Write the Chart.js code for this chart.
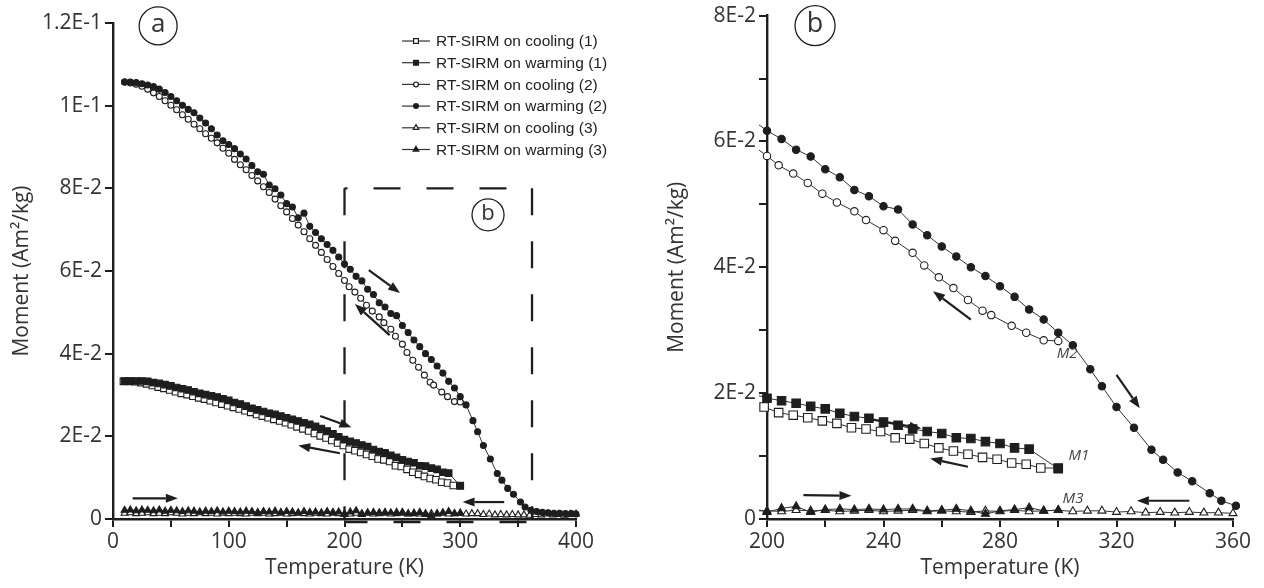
<!DOCTYPE html>
<html>
<head>
<meta charset="utf-8">
<script src="https://cdn.jsdelivr.net/npm/chart.js@4.4.1/dist/chart.umd.min.js"></script>
<style>
  html, body { margin: 0; padding: 0; background: #fff; }
  #wrap { position: relative; width: 1264px; height: 588px; overflow: hidden; }
  canvas { position: absolute; top: 0; }
  #chartA { left: 0; }
  #chartB { left: 634px; }
</style>
</head>
<body>
<div id="wrap">
  <canvas id="chartA" width="630" height="588"></canvas>
  <canvas id="chartB" width="630" height="588"></canvas>
</div>
<script>
// series names (legend order)
const seriesNames = [
  'RT-SIRM on cooling (1)', 'RT-SIRM on warming (1)',
  'RT-SIRM on cooling (2)', 'RT-SIRM on warming (2)',
  'RT-SIRM on cooling (3)', 'RT-SIRM on warming (3)'
];

// temperatures (K)
const tempsA = [10,15,20,25,30,35,40,45,50,55,60,65,70,75,80,85,90,95,100,105,110,115,120,125,130,135,140,145,150,155,
  160,165,170,175,180,185,190,195,200,205,210,215,220,225,230,235,240,245,250,255,260,265,270,275,280,285,290,295,300];
const tempsFull = [10,15,20,25,30,35,40,45,50,55,60,65,70,75,80,85,90,95,100,105,110,115,120,125,130,135,140,145,150,155,
  160,165,170,175,180,185,190,195,200,205,210,215,220,225,230,235,240,245,250,255,260,265,270,275,280,285,290,295,300,
  305,310,315,320,325,330,335,340,345,350,355,360,365,370,375,380,385,390,395,400];

// (1) squares
const warm1T = [10,15,20,25,30,35,40,45,50,55,60,65,70,75,80,85,90,95,100,105,110,115,120,125,130,135,140,145,150,155,
  160,165,170,175,180,185,190,195,200,205,210,215,220,225,230,235,240,245,250,255,260,265,270,275,280,285,290,300];
const warm1M = [.0334,.0334,.0334,.0334,.0333,.0330,.0328,.0325,.0322,.0318,
  .0315,.0312,.0308,.0304,.0301,.0298,.0295,.0291,.0287,.0282,
  .0278,.0273,.0268,.0264,.0260,.0256,.0253,.0249,.0245,.0241,
  .0237,.0233,.0229,.0224,.0219,.0213,.0206,.0199,.0192,.0188,
  .0184,.0179,.0175,.0168,.0163,.0160,.0154,.0149,.0143,.0139,
  .0136,.0129,.0128,.0123,.0120,.0113,.0111,.0080];
const cool1T = [9,14,19,24,29,34,39,44,49,54,59,64,69,74,79,84,89,94,99,104,109,114,119,124,129,134,139,144,149,154,
  159,164,169,174,179,184,189,194,199,204,209,214,219,224,229,234,239,244,249,254,259,264,269,274,279,284,289,294,300];
const cool1M = [.0333,.0333,.0332,.0330,.0327,.0323,.0319,.0316,.0312,.0308,
  .0304,.0301,.0297,.0293,.0290,.0286,.0282,.0278,.0274,.0270,
  .0266,.0262,.0258,.0253,.0249,.0245,.0241,.0237,.0233,.0228,
  .0223,.0218,.0213,.0207,.0201,.0196,.0190,.0184,.0178,.0169,
  .0165,.0161,.0156,.0152,.0145,.0143,.0139,.0129,.0127,.0120,
  .0113,.0108,.0103,.0098,.0095,.0089,.0087,.0081,.0081];

// (2) circles
const warm2T = tempsA.concat([305,311,315,320,326,332,336,341,346,352,356,361,366,371,376,381,386,391,396,400]);
const warm2M = [.1057,.1057,.1056,.1053,.1050,.1046,.1040,.1032,.1022,.1012,
  .1001,.0991,.0983,.0970,.0958,.0944,.0929,.0915,.0906,.0896,
  .0883,.0871,.0855,.0840,.0834,.0808,.0799,.0784,.0763,.0755,
  .0729,.0740,.0708,.0693,.0678,.0664,.0650,.0634,.0617,.0604,
  .0587,.0576,.0556,.0543,.0523,.0513,.0497,.0492,.0468,.0451,
  .0433,.0417,.0400,.0386,.0370,.0353,.0333,.0317,.0296,
  .0276,.0238,.0211,.0178,.0145,.0110,.0094,.0074,.0060,.0041,
  .0029,.0021,.0018,.0016,.0015,.0014,.0014,.0013,.0013,.0012];
const cool2T = [10,15,20,25,30,35,40,45,50,55,60,65,70,75,80,85,90,95,100,105,110,115,120,125,130,135,140,145,150,155,
  160,165,170,175,180,185,190,195,200,204,209,214,219,224,230,234,240,244,250,254,259,264,269,274,277,284,289,295,300];
const cool2M = [.1057,.1055,.1052,.1047,.1040,.1031,.1022,.1012,.1001,.0990,
  .0978,.0967,.0955,.0944,.0932,.0921,.0910,.0897,.0885,.0870,
  .0857,.0845,.0831,.0818,.0804,.0790,.0774,.0758,.0743,.0727,
  .0711,.0695,.0678,.0662,.0645,.0628,.0611,.0594,.0577,
  .0562,.0549,.0534,.0517,.0503,.0489,.0475,.0459,.0442,.0423,
  .0403,.0384,.0367,.0348,.0331,.0324,.0307,.0296,.0284,.0283];

// (3) triangles
const warm3T = tempsA;
const warm3M = [.0021,.0022,.0020,.0022,.0021,.0020,.0022,.0019,.0021,.0020,
  .0018,.0020,.0019,.0017,.0019,.0018,.0020,.0017,.0019,.0018,
  .0017,.0019,.0018,.0016,.0018,.0017,.0019,.0016,.0018,.0017,
  .0015,.0018,.0016,.0017,.0015,.0018,.0016,.0017,.0011,.0017,
  .0020,.0011,.0015,.0016,.0015,.0016,.0015,.0016,.0016,.0013,
  .0014,.0016,.0013,.0008,.0013,.0015,.0018,.0013,.0014];
const cool3T = tempsFull;
const cool3M = [.0014,.0015,.0013,.0014,.0015,.0013,.0014,.0013,.0015,.0014,
  .0012,.0014,.0013,.0015,.0013,.0014,.0012,.0014,.0013,.0014,
  .0013,.0012,.0014,.0013,.0014,.0012,.0013,.0014,.0012,.0013,
  .0014,.0013,.0012,.0014,.0013,.0012,.0014,.0013,.0013,.0012,
  .0014,.0013,.0014,.0012,.0013,.0014,.0012,.0013,.0014,.0012,
  .0013,.0012,.0011,.0013,.0012,.0014,.0012,.0013,.0014,.0012,
  .0013,.0013,.0011,.0012,.0010,.0011,.0010,.0011,.0010,.0010,
  .0009,.0011,.0010,.0012,.0010,.0011,.0009,.0011,.0012];

// tick labels
const aXTickLabels = ['0', '', '100', '', '200', '', '300', '', '400'];
const aYTickLabels = ['0', '2E-2', '4E-2', '6E-2', '8E-2', '1E-1', '1.2E-1'];
const bXTickLabels = ['200', '', '240', '', '280', '', '320', '', '360'];
const bYTickLabels = ['0', '', '2E-2', '', '4E-2', '', '6E-2', '', '8E-2'];

const seriesT = [cool1T, warm1T, cool2T, warm2T, cool3T, warm3T];
const seriesM = [cool1M, warm1M, cool2M, warm2M, cool3M, warm3M];
const markers = ['rect', 'rect', 'circle', 'circle', 'triangle', 'triangle'];
const filled = [false, true, false, true, false, true];

const INK = '#1e1e1e';
const FONT = "'Open Sans', sans-serif";

function pts(ts, ms) {
  return ts.map((t, i) => ({ x: t, y: ms[i] }));
}

function buildDatasets(sizes) {
  return seriesNames.map((name, i) => ({
    label: name,
    data: pts(seriesT[i], seriesM[i]),
    showLine: true,
    borderColor: '#333',
    borderWidth: 1,
    pointStyle: markers[i],
    pointRadius: sizes[markers[i]],
    pointBorderWidth: 1.1,
    pointBorderColor: INK,
    pointBackgroundColor: filled[i] ? INK : '#fff',
    order: filled[i] ? 0 : 1,
    clip: 8
  }));
}

// extra marks for each panel (arrows etc.), in data units
const overlays = {
  chartA: {
    arrows: [
      [[17, 0.0050], [56, 0.0050]],
      [[179, 0.0249], [206, 0.0222]],
      [[196, 0.0159], [160, 0.0178]],
      [[221, 0.0602], [248, 0.0547]],
      [[239, 0.0445], [209, 0.0520]],
      [[338, 0.0041], [302, 0.0041]]
    ],
    circles: [
      { t: 'a', x: 39, y: 0.1193, r: 19, size: 26 },
      { t: 'b', x: 324, y: 0.0736, r: 16, size: 22 }
    ],
    labels: [],
    box: { x0: 200, x1: 362, y1: 0.08 },
    legend: { x: 402, y: 41, row: 21.7 }
  },
  chartB: {
    arrows: [
      [[212.5, 0.0038], [229, 0.0037]],
      [[235, 0.0159], [253, 0.0144]],
      [[269, 0.0083], [256, 0.0096]],
      [[345, 0.0029], [327, 0.0029]],
      [[320, 0.0229], [328, 0.0176]],
      [[270, 0.0317], [257, 0.0362]]
    ],
    circles: [
      { t: 'b', x: 216.5, y: 0.0784, r: 20, size: 27 }
    ],
    labels: [
      { t: 'M1', x: 303.5, y: 0.0101 },
      { t: 'M2', x: 299.5, y: 0.0263 },
      { t: 'M3', x: 301.5, y: 0.0032 }
    ],
    box: null,
    legend: null
  }
};

function drawArrow(ctx, x1, y1, x2, y2) {
  const ang = Math.atan2(y2 - y1, x2 - x1);
  const head = 12, half = 4.5;
  const hx = x2 - head * Math.cos(ang), hy = y2 - head * Math.sin(ang);
  ctx.beginPath();
  ctx.moveTo(x1, y1);
  ctx.lineTo(hx, hy);
  ctx.lineWidth = 2.2;
  ctx.stroke();
  ctx.beginPath();
  ctx.moveTo(x2, y2);
  ctx.lineTo(hx + half * Math.sin(ang), hy - half * Math.cos(ang));
  ctx.lineTo(hx - half * Math.sin(ang), hy + half * Math.cos(ang));
  ctx.closePath();
  ctx.fill();
}

const overlayPlugin = {
  id: 'overlay',
  afterDatasetsDraw(chart) {
    const cfg = overlays[chart.canvas.id];
    const ctx = chart.ctx;
    const xs = chart.scales.x, ys = chart.scales.y;
    ctx.save();
    ctx.strokeStyle = INK;
    ctx.fillStyle = INK;

    // dashed zoom box
    if (cfg.box) {
      const b = cfg.box;
      const X0 = xs.getPixelForValue(b.x0), X1 = xs.getPixelForValue(b.x1);
      const Y1 = ys.getPixelForValue(b.y1), Y0 = ys.getPixelForValue(0);
      ctx.lineWidth = 2.3;
      ctx.setLineDash([27, 26]);
      ctx.beginPath(); ctx.moveTo(X0, Y1); ctx.lineTo(X0, Y0); ctx.stroke();
      ctx.beginPath(); ctx.moveTo(X1, Y1); ctx.lineTo(X1, Y0); ctx.stroke();
      ctx.lineDashOffset = 24;
      ctx.beginPath(); ctx.moveTo(X0, Y1); ctx.lineTo(X1, Y1); ctx.stroke();
      ctx.lineDashOffset = 4;
      ctx.beginPath(); ctx.moveTo(X0, Y0 + 3); ctx.lineTo(X1, Y0 + 3); ctx.stroke();
      ctx.setLineDash([]);
    }

    cfg.arrows.forEach(a => {
      drawArrow(ctx, xs.getPixelForValue(a[0][0]), ys.getPixelForValue(a[0][1]),
        xs.getPixelForValue(a[1][0]), ys.getPixelForValue(a[1][1]));
    });

    // circled panel letters
    cfg.circles.forEach(c => {
      const cx = xs.getPixelForValue(c.x), cy = ys.getPixelForValue(c.y);
      ctx.lineWidth = 1.3;
      ctx.beginPath(); ctx.arc(cx, cy, c.r, 0, Math.PI * 2); ctx.stroke();
      ctx.font = c.size + 'px ' + FONT;
      ctx.textAlign = 'center';
      ctx.textBaseline = 'middle';
      ctx.fillStyle = '#333';
      ctx.fillText(c.t, cx, cy - 1);
      ctx.fillStyle = INK;
    });

    cfg.labels.forEach(l => {
      ctx.font = 'italic 15px ' + FONT;
      ctx.textAlign = 'left';
      ctx.textBaseline = 'middle';
      ctx.fillStyle = '#444';
      ctx.fillText(l.t, xs.getPixelForValue(l.x), ys.getPixelForValue(l.y));
      ctx.fillStyle = INK;
    });

    // legend: short line with the marker, then the name
    if (cfg.legend) {
      const L = cfg.legend;
      const legSizes = { rect: 3.4, circle: 2.4, triangle: 3.2 };
      seriesNames.forEach((name, i) => {
        const y = L.y + i * L.row;
        ctx.strokeStyle = '#333';
        ctx.lineWidth = 1.2;
        ctx.beginPath(); ctx.moveTo(L.x, y); ctx.lineTo(L.x + 28, y); ctx.stroke();
        ctx.strokeStyle = INK;
        ctx.fillStyle = filled[i] ? INK : '#fff';
        Chart.helpers.drawPoint(ctx, {
          pointStyle: markers[i], radius: legSizes[markers[i]], borderWidth: 1, rotation: 0
        }, L.x + 14, y);
        ctx.fillStyle = '#222';
        ctx.font = '15.5px "Liberation Sans", Arial, sans-serif';
        ctx.textAlign = 'left';
        ctx.textBaseline = 'middle';
        ctx.fillText(name, L.x + 34, y + 1);
      });
    }
    ctx.restore();
  }
};

function axisCommon(width) {
  return {
    type: 'linear',
    border: { display: true, color: INK, width: 2.4 },
    grid: { drawOnChartArea: false, drawTicks: true, tickLength: 8, color: INK, lineWidth: 2 },
    ticks: { color: '#333', font: { family: FONT, size: 21 }, autoSkip: false, maxRotation: 0, padding: 2 }
  };
}

function makeChart(id, opt) {
  const xAxis = axisCommon();
  xAxis.min = opt.xMin; xAxis.max = opt.xMax;
  xAxis.ticks.stepSize = opt.xStep;
  xAxis.ticks.callback = (v, i) => opt.xLabels[i];
  xAxis.title = { display: true, text: 'Temperature (K)', color: '#333',
    font: { family: FONT, size: 21 }, padding: { top: 0, bottom: 7 } };
  xAxis.afterFit = s => { s.height = 69; };

  const yAxis = axisCommon();
  yAxis.min = 0; yAxis.max = opt.yMax;
  yAxis.ticks.stepSize = opt.yStep;
  yAxis.ticks.padding = 3;
  yAxis.ticks.callback = (v, i) => opt.yLabels[i];
  yAxis.title = { display: true, text: 'Moment (Am\u00B2/kg)', color: '#333',
    font: { family: FONT, size: 21 }, padding: { top: opt.yTitlePad, bottom: 0 } };
  yAxis.afterFit = s => { s.width = opt.yWidth; };

  return new Chart(document.getElementById(id), {
    type: 'scatter',
    data: { datasets: buildDatasets(opt.sizes) },
    options: {
      responsive: false,
      devicePixelRatio: 1,
      animation: false,
      layout: { padding: { left: 0, right: opt.padRight, top: opt.padTop, bottom: 0 } },
      scales: { x: xAxis, y: yAxis },
      plugins: { legend: { display: false }, tooltip: { enabled: false } },
      elements: { line: { tension: 0 } }
    },
    plugins: [overlayPlugin]
  });
}

makeChart('chartA', {
  xMin: 0, xMax: 400, xStep: 50, xLabels: aXTickLabels,
  yMax: 0.12, yStep: 0.02, yLabels: aYTickLabels,
  yWidth: 113, padRight: 54, padTop: 23, yTitlePad: 9,
  sizes: { rect: 4.6, circle: 3, triangle: 4 }
});

makeChart('chartB', {
  xMin: 200, xMax: 360, xStep: 20, xLabels: bXTickLabels,
  yMax: 0.08, yStep: 0.01, yLabels: bYTickLabels,
  yWidth: 133, padRight: 31, padTop: 15, yTitlePad: 30,
  sizes: { rect: 6, circle: 3.7, triangle: 4.6 }
});
</script>
</body>
</html>
